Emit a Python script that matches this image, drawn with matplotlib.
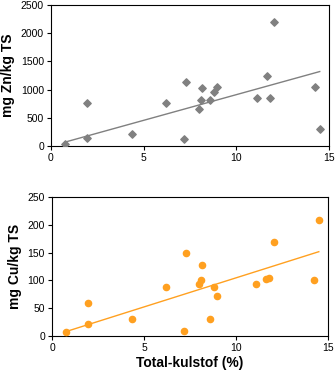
import numpy as np
import matplotlib.pyplot as plt

plt.rcParams['font.family'] = ['Liberation Sans', 'DejaVu Sans']

# total kulstof (%), shared by both panels
kulstof = [0.75, 1.95, 1.95, 4.35, 6.2, 7.15, 7.3, 8.0, 8.1, 8.15,
           8.6, 8.8, 8.95, 11.1, 11.65, 11.8, 12.05, 14.25, 14.5]
zn = [41, 148, 758, 207, 758, 124, 1143, 658, 812, 1025,
      812, 960, 1043, 859, 1244, 859, 2192, 1043, 308]
cu = [7, 22, 59, 30.5, 88, 9, 150, 93, 101, 128,
      30.5, 88, 72, 93, 102, 105, 169, 101, 209]

fig = plt.figure(figsize=(3.35, 3.8), dpi=100)
ax1 = fig.add_axes([51/335, 1 - 146/380, 278/335, 141/380])
ax2 = fig.add_axes([52/335, 1 - 336/380, 276/335, 139/380])

x = np.array(kulstof)
xl = np.array([x.min(), x.max()])

def trend0(xv, yv):
    # trendline forced through origin (like excel)
    yv = np.array(yv)
    return np.sum(xv * yv) / np.sum(xv * xv)

# Zn
ax1.scatter(x, zn, marker='D', s=14, color='#808080', zorder=3)
ax1.plot(xl, trend0(x, zn) * xl, color='#808080', lw=1)
ax1.set_ylim(0, 2500)
ax1.set_yticks([0, 500, 1000, 1500, 2000, 2500])
ax1.set_ylabel('mg Zn/kg TS', fontsize=10, fontweight='bold', labelpad=4)

# Cu
ax2.scatter(x, cu, marker='o', s=20, color='#FFA020', zorder=3)
ax2.plot(xl, trend0(x, cu) * xl, color='#FFA020', lw=1)
ax2.set_ylim(0, 250)
ax2.set_yticks([0, 50, 100, 150, 200, 250])
ax2.set_ylabel('mg Cu/kg TS', fontsize=10, fontweight='bold', labelpad=4)
ax2.set_xlabel('Total-kulstof (%)', fontsize=10, fontweight='bold', labelpad=2)

for ax in (ax1, ax2):
    ax.set_xlim(0, 15)
    ax.set_xticks([0, 5, 10, 15])
    ax.tick_params(labelsize=7.5, length=3, width=0.8, pad=2)
    for sp_ in ax.spines.values():
        sp_.set_linewidth(0.8)

fig.savefig('out.png', dpi=100)
